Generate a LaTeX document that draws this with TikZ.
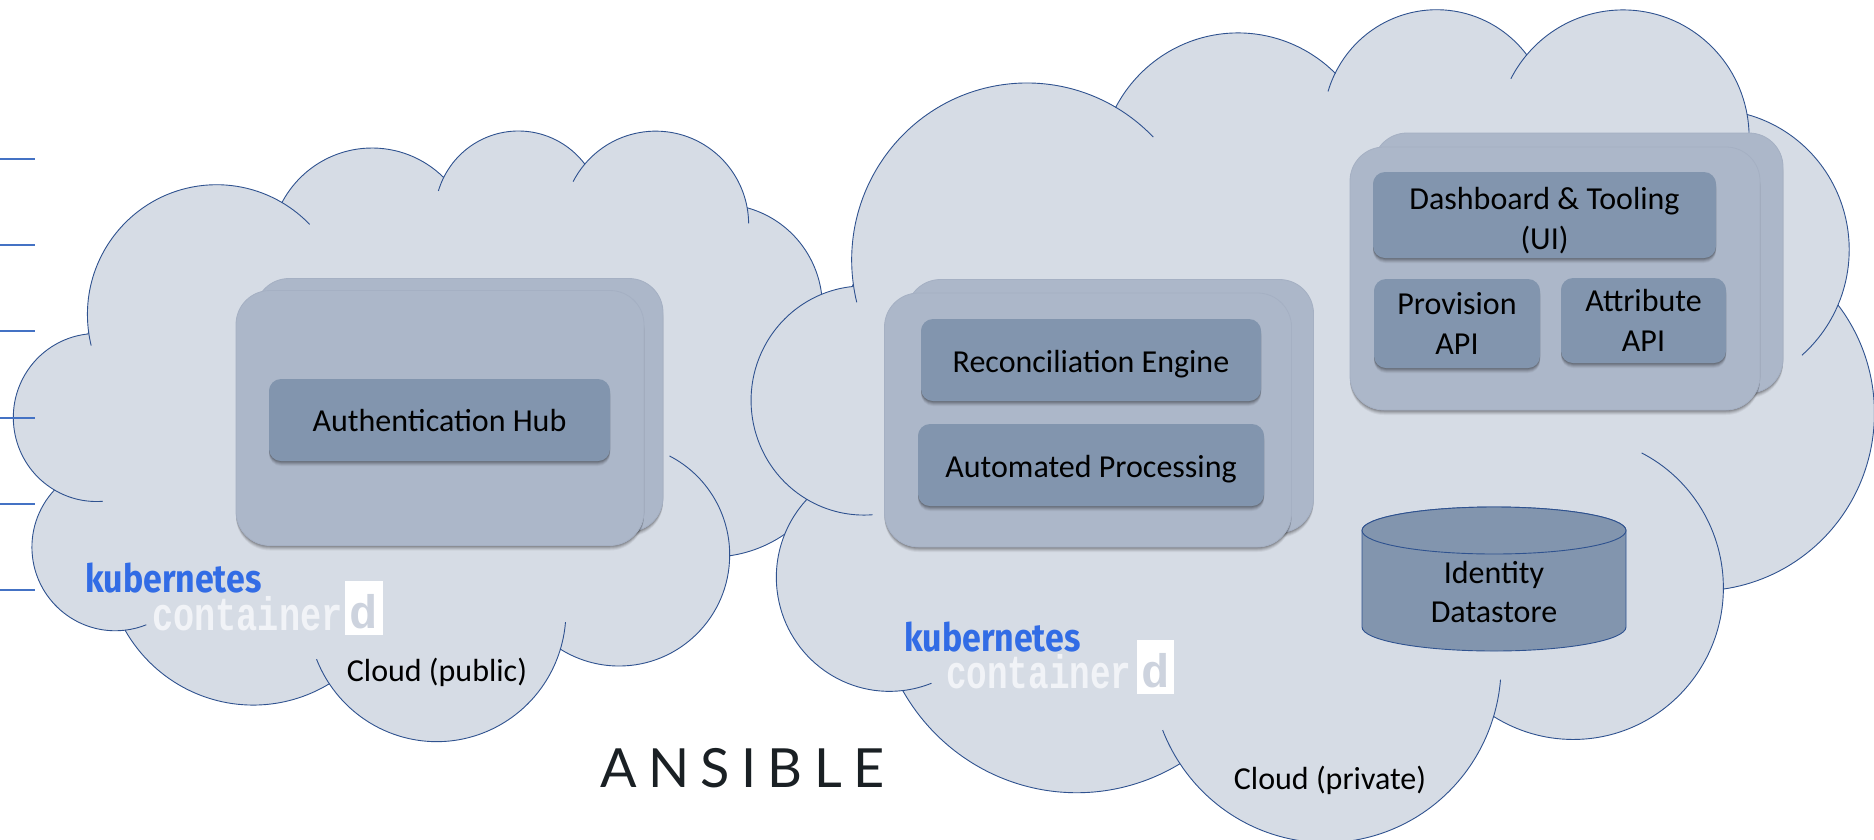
\documentclass[tikz,border=0pt]{standalone}
\usepackage{fontspec}
\setmainfont{Carlito}
\newfontfamily\kubefont{Fira Sans}
\newfontfamily\ctrfont{Liberation Mono}
\newfontfamily\ansfont[LetterSpace=21]{Lato}
\usetikzlibrary{shadows}
\definecolor{cloudfill}{HTML}{D6DCE5}
\definecolor{cloudline}{HTML}{2F528F}
\definecolor{panelfill}{HTML}{ACB7C9}
\definecolor{paneledge}{HTML}{A5B0C3}
\definecolor{boxfill}{HTML}{8295AE}
\definecolor{kubeblue}{HTML}{326CE5}
\definecolor{ctrwhite}{HTML}{F1F3F7}
\definecolor{ctrgray}{HTML}{CDD3DE}
\definecolor{ruleblue}{HTML}{4472C4}
\definecolor{ansink}{HTML}{1A2024}
\tikzset{
 softshadow/.style={
   general shadow={shadow xshift=0pt,shadow yshift=-5pt,fill=black,opacity=.05},
   general shadow={shadow xshift=0pt,shadow yshift=-4pt,fill=black,opacity=.07},
   general shadow={shadow xshift=0pt,shadow yshift=-3pt,fill=black,opacity=.09},
   general shadow={shadow xshift=0pt,shadow yshift=-2pt,fill=black,opacity=.11},
   general shadow={shadow xshift=0pt,shadow yshift=-1pt,fill=black,opacity=.13}},
 panel/.style={rectangle,rounded corners=34pt,fill=panelfill,draw=paneledge,line width=.8pt,softshadow,inner sep=0pt,text=black},
 backpanel/.style={panel},
 innerbox/.style={rectangle,rounded corners=12pt,fill=boxfill,softshadow,inner sep=0pt,align=center,font=\fontsize{32}{40.5}\selectfont,text=black},
 label/.style={inner sep=0pt,align=center,font=\fontsize{32}{39.5}\selectfont,text=black},
 cloudlabel/.style={inner sep=0pt,font=\fontsize{32}{36}\selectfont,text=black},
 cloudedge/.style={draw=cloudline,line width=.9pt},
 ruleline/.style={draw=ruleblue,line width=2.8pt},
 kube/.style={inner sep=0pt,text=kubeblue,font=\kubefont\bfseries\fontsize{39}{40}\selectfont},
 ctr/.style={inner sep=0pt,text=ctrwhite,font=\ctrfont\bfseries\fontsize{47}{50}\selectfont},
 ctrd/.style={inner sep=0pt,text=ctrgray,font=\ctrfont\bfseries\fontsize{47}{50}\selectfont},
 whitebox/.style={rectangle,fill=white,inner sep=0pt},
}
% one lobe of the cloud outline: radii and angles as in the drawing's cloud form
\newcommand\lobe[4]{%
 \pgfextra{%
  \pgfmathsetmacro\ta{atan2(#1*sin(#3),#2*cos(#3))}%
  \pgfmathsetmacro\tb{atan2(#1*sin(#3+#4),#2*cos(#3+#4))}%
  \pgfmathsetmacro\td{\tb-\ta}%
  \pgfmathsetmacro\td{#4>0 ? (\td<0 ? \td+360 : \td) : (\td>0 ? \td-360 : \td)}%
  \pgfmathsetmacro\rx{#1*\cx}%
  \pgfmathsetmacro\ry{#2*\cy}%
 }%
 arc[start angle=\ta,delta angle=\td,x radius=\rx pt,y radius=\ry pt]}
\newcommand\cloudshape[5]{% prefix x y w h
 \pgfmathsetmacro\cx{#4/4320/10}%
 \pgfmathsetmacro\cy{#5/4320/10}%
 \path[fill=cloudfill,cloudedge]
  ({#2+3900*\cx},{#3+14370*\cy}) coordinate (#1a)
  \lobe{6753}{9190}{-190.48748}{123.78053} coordinate (#1b)
  \lobe{5333}{7267}{-144.10238}{89.94523} coordinate (#1c)
  \lobe{4365}{5945}{-145.80792}{99.72302} coordinate (#1d)
  \lobe{4857}{6595}{-130.98607}{117.24173} coordinate (#1e)
  \lobe{5333}{7273}{-78.70888}{109.02692} coordinate (#1f)
  \lobe{6775}{9220}{-46.26725}{130.26900} coordinate (#1g)
  \lobe{5785}{7867}{0.62502}{114.03333} coordinate (#1h)
  \lobe{6752}{9215}{22.45160}{115.17255} coordinate (#1i)
  \lobe{7720}{10543}{66.24263}{75.71102} coordinate (#1j)
  \lobe{4360}{5918}{85.05792}{146.73557} coordinate (#1k)
  \lobe{4345}{5945}{113.17150}{152.51885} -- cycle;
 \draw[cloudedge] (#1a) \lobe{6753}{9190}{-190.48748}{-8};
 \draw[cloudedge] (#1b) \lobe{6753}{9190}{-66.70695}{14};
 \draw[cloudedge] (#1c) \lobe{4365}{5945}{-145.80792}{-12};
 \draw[cloudedge] (#1d) \lobe{4857}{6595}{-130.98607}{-14};
 \draw[cloudedge] (#1e) \lobe{4857}{6595}{-13.74434}{13};
 \draw[cloudedge] (#1f) \lobe{5333}{7273}{30.31804}{27};
 \draw[cloudedge] (#1g) \lobe{5785}{7867}{0.62502}{-70};
 \draw[cloudedge] (#1h) \lobe{6752}{9215}{22.45160}{-16};
 \draw[cloudedge] (#1i) \lobe{6752}{9215}{137.62415}{14.08};
 \draw[cloudedge] (#1j) \lobe{4360}{5918}{85.05792}{-11.45};
 \draw[cloudedge] (#1k) \lobe{4345}{5945}{113.17150}{-26.43};
}
\begin{document}
\begin{tikzpicture}[yscale=-1,x=1pt,y=1pt]
\clip (0,0) rectangle (1874,839);
\cloudshape{A}{14}{129}{827}{611}
\cloudshape{B}{752}{7}{1122}{833}

% rules at the left edge
\foreach \i/\yy in {1/159,2/245,3/331,4/418,5/504,6/590}{
 \coordinate (rs\i) at (0,\yy);
 \coordinate (re\i) at (35,\yy);
 \draw[ruleline] (rs\i) -- (re\i);
}

% public cloud
\node[backpanel,minimum width=408pt,minimum height=253pt] (p1back) at (459,405) {};
\node[panel,minimum width=408pt,minimum height=255pt] (p1front) at (440,418) {};
\node[innerbox,minimum width=341pt,minimum height=82pt] (auth) at (439.5,420) {Authentication Hub};
\node[kube,anchor=base west] (k1) at (85,592) {\scalebox{.87}[1]{kubernetes}};
\node[ctr,anchor=base west] (c1) at (152,630) {\scalebox{.75}[1]{container}};
\node[whitebox,minimum width=38pt,minimum height=54pt] (d1box) at (364,608) {};
\node[ctrd,anchor=base] (d1) at (364,628) {d};
\node[cloudlabel] (pub) at (437,672) {Cloud (public)};

% private cloud: middle stack
\node[backpanel,minimum width=407pt,minimum height=253pt] (p2back) at (1110,406) {};
\node[panel,minimum width=407pt,minimum height=254pt] (p2front) at (1088,420) {};
\node[innerbox,minimum width=340pt,minimum height=82pt] (recon) at (1091,360) {\rule{0pt}{31pt}Reconciliation Engine};
\node[innerbox,minimum width=346pt,minimum height=82pt] (auto) at (1091,465) {\rule{0pt}{31pt}Automated Processing};

% private cloud: right stack
\node[backpanel,minimum width=410pt,minimum height=260pt] (p3back) at (1578,263) {};
\node[panel,minimum width=410pt,minimum height=263pt] (p3front) at (1555,278.5) {};
\node[innerbox,minimum width=343pt,minimum height=86pt] (dash) at (1544.5,215) {\rule{0pt}{33pt}Dashboard \& Tooling\\(UI)};
\node[innerbox,minimum width=166pt,minimum height=89pt] (prov) at (1457,323.5) {Provision\\API};
\node[innerbox,minimum width=165pt,minimum height=85pt] (attr) at (1643.5,320.5) {Attribute\\API};

% datastore
\path[fill=boxfill,draw=cloudline,line width=.9pt]
 (1362,530.5) arc[start angle=180,end angle=360,x radius=132pt,y radius=23.5pt]
 -- (1626,627) arc[start angle=0,end angle=180,x radius=132pt,y radius=24pt] -- cycle;
\path[fill=boxfill,draw=cloudline,line width=.9pt]
 (1494,530.5) ellipse[x radius=132pt,y radius=23.5pt];
\node[label] (store) at (1494,592) {Identity\\Datastore};

\node[kube,anchor=base west] (k2) at (904,651) {\scalebox{.87}[1]{kubernetes}};
\node[ctr,anchor=base west] (c2) at (946,688) {\scalebox{.73}[1]{container}};
\node[whitebox,minimum width=37pt,minimum height=54pt] (d2box) at (1155.5,667) {};
\node[ctrd,anchor=base] (d2) at (1155.5,687) {d};
\node[cloudlabel] (priv) at (1330,780) {Cloud (private)};

\node[inner sep=0pt,text=ansink,anchor=base west,font=\ansfont\fontsize{54}{54}\selectfont] (ans) at (600,787) {ANSIBLE};
\end{tikzpicture}
\end{document}
